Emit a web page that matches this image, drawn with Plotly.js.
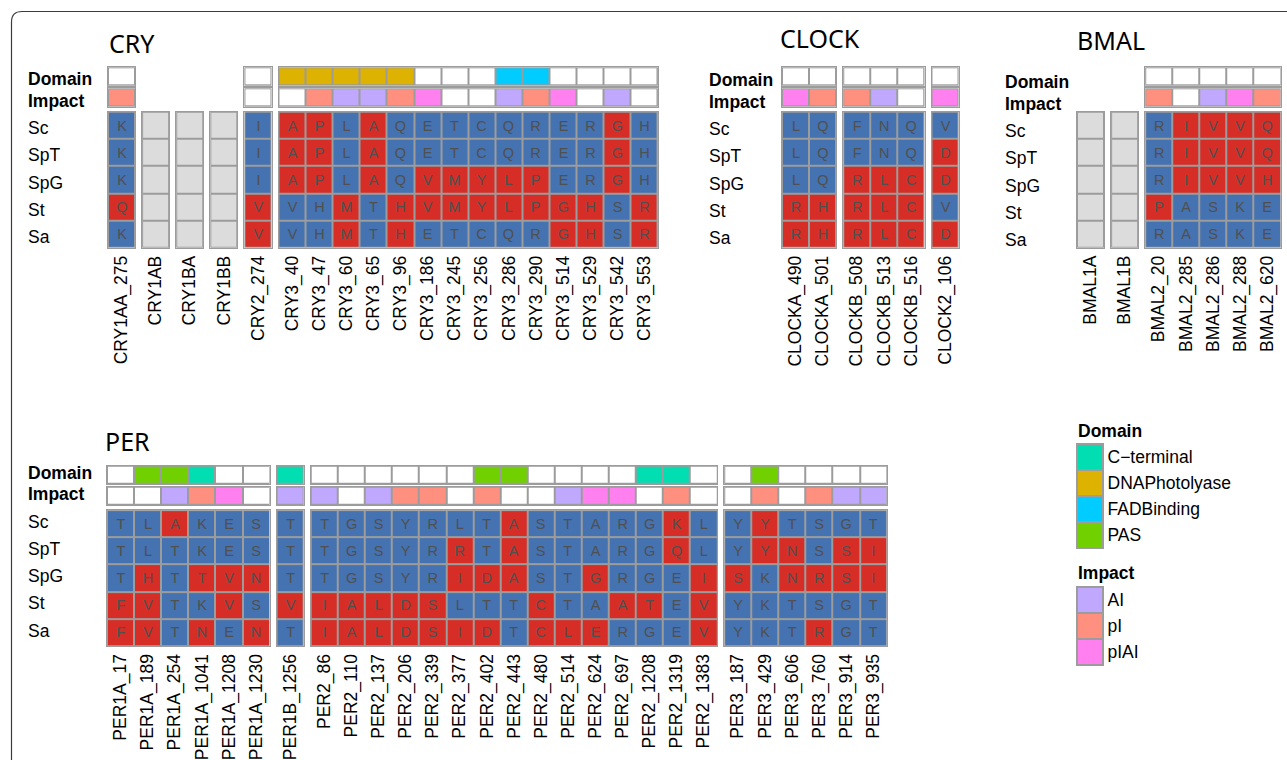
<!DOCTYPE html>
<html><head><meta charset="utf-8">
<script src="https://cdn.plot.ly/plotly-3.0.1.min.js"></script>
<style>html,body{margin:0;padding:0;background:#fff}</style>
</head><body><div id="chart" style="width:1287px;height:760px"></div>
<script>
// ---------------- DATA ----------------
const species = ["Sc","SpT","SpG","St","Sa"];

// CRY
const cryLabels = ["CRY1AA_275","CRY1AB","CRY1BA","CRY1BB","CRY2_274","CRY3_40","CRY3_47","CRY3_60","CRY3_65","CRY3_96","CRY3_186","CRY3_245","CRY3_256","CRY3_286","CRY3_290","CRY3_514","CRY3_529","CRY3_542","CRY3_553"];
const cryGroupSizes = [1,1,1,1,1,14];
const cryDomain = ["",null,null,null,"","DNAPhotolyase","DNAPhotolyase","DNAPhotolyase","DNAPhotolyase","DNAPhotolyase","","","","FADBinding","FADBinding","","","",""];
const cryImpact = ["pI",null,null,null,"","","pI","AI","AI","pI","pIAI","","","AI","pI","pIAI","","AI",""];
const cryResidues = ["K---IAPLAQETCQRERGH","K---IAPLAQETCQRERGH","K---IAPLAQVMYLPERGH","Q---VVHMTHVMYLPGHSR","K---VVHMTHETCQRGHSR"];
const cryStatus   = ["B---BRRBRBBBBBBBBRB","B---BRRBRBBBBBBBBRB","B---BRRBRBRRRRRBBRB","R---RBBRBRRRRRRRRBR","B---RBBRBRBBBBBRRBR"];

// CLOCK
const clockLabels = ["CLOCKA_490","CLOCKA_501","CLOCKB_508","CLOCKB_513","CLOCKB_516","CLOCK2_106"];
const clockGroupSizes = [2,3,1];
const clockDomain = ["","","","","",""];
const clockImpact = ["pIAI","pI","pI","AI","","pIAI"];
const clockResidues = ["LQFNQV","LQFNQD","LQRLCD","RHRLCV","RHRLCD"];
const clockStatus   = ["BBBBBB","BBBBBR","BBRRRR","RRRRRB","RRRRRR"];

// BMAL
const bmalLabels = ["BMAL1A","BMAL1B","BMAL2_20","BMAL2_285","BMAL2_286","BMAL2_288","BMAL2_620"];
const bmalGroupSizes = [1,1,5];
const bmalDomain = [null,null,"","","","",""];
const bmalImpact = [null,null,"pI","","AI","pIAI","pI"];
const bmalResidues = ["--RIVVQ","--RIVVQ","--RIVVH","--PASKE","--RASKE"];
const bmalStatus   = ["--BRRRR","--BRRRR","--BRRRR","--RBBBB","--BBBBB"];

// PER
const perLabels = ["PER1A_17","PER1A_189","PER1A_254","PER1A_1041","PER1A_1208","PER1A_1230","PER1B_1256",
  "PER2_86","PER2_110","PER2_137","PER2_206","PER2_339","PER2_377","PER2_402","PER2_443","PER2_480","PER2_514","PER2_624","PER2_697","PER2_1208","PER2_1319","PER2_1383",
  "PER3_187","PER3_429","PER3_606","PER3_760","PER3_914","PER3_935"];
const perGroupSizes = [6,1,15,6];
const perDomain = ["","PAS","PAS","C−terminal","","", "C−terminal",
  "","","","","","","PAS","PAS","","","","","C−terminal","C−terminal","",
  "","PAS","","","",""];
const perImpact = ["","","AI","pI","pIAI","", "AI",
  "AI","","AI","pI","pI","","pI","","","AI","pIAI","pIAI","","pI","",
  "","pI","","pI","AI","AI"];
const perResidues = [
  "TLAKES"+"T"+"TGSYRLTASTARGKL"+"YYTSGT",
  "TLTKES"+"T"+"TGSYRRTASTARGQL"+"YYNSSI",
  "THTTVN"+"T"+"TGSYRIDASTGRGEI"+"SKNRSI",
  "FVTKVS"+"V"+"IALDSLTTCTAATEV"+"YKTSGT",
  "FVTNEN"+"T"+"IALDSIDTCLERGEV"+"YKTRGT"];
const perStatus = [
  "BBRBBB"+"B"+"BBBBBBBRBBBBBRB"+"BRBBBB",
  "BBBBBB"+"B"+"BBBBBRBRBBBBBRB"+"BRRBRR",
  "BRBRRR"+"B"+"BBBBBRRRBBRBBBR"+"RBRRRR",
  "RRBBRB"+"R"+"RRRRRBBBRBBRRBR"+"BBBBBB",
  "RRBRBR"+"B"+"RRRRRRRBRRRBBBR"+"BBBRBB"];

// Legend categories
const domainNames = ["C−terminal","DNAPhotolyase","FADBinding","PAS"];
const impactNames = ["AI","pI","pIAI"];

// ---------------- STYLE ----------------
const W = 1287, H = 760;
const PITCH = 27.1, GROUP_GAP = 7;
const BLUE = '#4572B0', RED = '#D62E26', ABSENT = '#DCDCDC', BORDER = '#9C9C9C';
const domainColors = ["#00DEB2","#DEB200","#00CCFF","#70D000"];
const impactColors = ["#C0A8FF","#FF9080","#FF80EE"];
const FONT = 'Liberation Sans, Arial, sans-serif';
const fx = px => px / W;
const fy = py => 1 - py / H;

function stepScale(cols){
  const n = cols.length, s = [];
  cols.forEach((c,k)=>{
    const a = k===0 ? 0 : (k-0.5)/(n-1);
    const b = k===n-1 ? 1 : (k+0.5)/(n-1);
    s.push([a,c],[b,c]);
  });
  return s;
}
const mainScale = stepScale([BLUE, RED, ABSENT]);
const domScale = stepScale(['#FFFFFF'].concat(domainColors));
const impScale = stepScale(['#FFFFFF'].concat(impactColors));
const domCode = d => d ? domainNames.indexOf(d)+1 : 0;
const impCode = d => d ? impactNames.indexOf(d)+1 : 0;

const panels = [
  {title:'CRY', labels:cryLabels, sizes:cryGroupSizes, domain:cryDomain, impact:cryImpact, residues:cryResidues, status:cryStatus,
   x0:108, top:67.3, labelX:26, titleX:107, titleY:43, rowShift:-3},
  {title:'CLOCK', labels:clockLabels, sizes:clockGroupSizes, domain:clockDomain, impact:clockImpact, residues:clockResidues, status:clockStatus,
   x0:782, top:67.3, labelX:707, titleX:778, titleY:38, rowShift:-4},
  {title:'BMAL', labels:bmalLabels, sizes:bmalGroupSizes, domain:bmalDomain, impact:bmalImpact, residues:bmalResidues, status:bmalStatus,
   x0:1077, top:67.3, labelX:1003, titleX:1075, titleY:40, rowShift:-6},
  {title:'PER', labels:perLabels, sizes:perGroupSizes, domain:perDomain, impact:perImpact, residues:perResidues, status:perStatus,
   x0:107, top:465.7, labelX:26, titleX:103, titleY:441, rowShift:2},
];

const ref = (p,id) => id===1 ? p : p+id;
const axName = (p,id) => id===1 ? p+'axis' : p+'axis'+id;

const traces = [], annotations = [];
const layout = {
  width:W, height:H, margin:{l:0,r:0,t:0,b:0},
  paper_bgcolor:'#FFFFFF', plot_bgcolor:BORDER,
  showlegend:false, hovermode:false,
  font:{family:FONT, color:'#000'},
};
let xi = 0, yi = 0;

function baseAxis(dom, anchor){
  return {domain:dom, anchor:anchor, ticks:'', showgrid:false, zeroline:false,
    showline:true, linecolor:BORDER, linewidth:1, mirror:'all', fixedrange:true, automargin:false};
}

panels.forEach(p=>{
  const yDom = ++yi, yImp = ++yi, yMain = ++yi;
  const T = p.top;
  let col = 0, xpos = p.x0, firstX = null, firstAnnX = null;
  p.sizes.forEach(size=>{
    const id = ++xi;
    if(firstX===null) firstX = id;
    const cols = p.labels.slice(col, col+size);
    layout[axName('x',id)] = Object.assign(baseAxis([fx(xpos), fx(xpos+size*PITCH)], ref('y',yMain)), {
      type:'category', categoryorder:'array', categoryarray:cols, range:[-0.5, size-0.5],
      tickangle:-90, tickfont:{family:FONT, size:17.5, color:'#000'}});
    const z = p.status.map(s => Array.from(s.slice(col,col+size)).map(ch => ch==='B'?0:(ch==='R'?1:2)));
    const text = p.residues.map(s => Array.from(s.slice(col,col+size)).map(ch => ch==='-'?'':ch));
    traces.push({type:'heatmap', x:cols, y:species, z:z, text:text, texttemplate:'%{text}',
      textfont:{family:FONT, size:14.5, color:'#505050'},
      colorscale:mainScale, zmin:0, zmax:2, showscale:false, xgap:2, ygap:2, hoverinfo:'skip',
      xaxis:ref('x',id), yaxis:ref('y',yMain)});
    const dom = p.domain.slice(col, col+size);
    const imp = p.impact.slice(col, col+size);
    if(dom[0]!==null){
      if(firstAnnX===null) firstAnnX = id;
      traces.push({type:'heatmap', x:cols, y0:0, dy:1, z:[dom.map(domCode)], colorscale:domScale, zmin:0, zmax:4,
        showscale:false, xgap:2, ygap:2, hoverinfo:'skip', xaxis:ref('x',id), yaxis:ref('y',yDom)});
      traces.push({type:'heatmap', x:cols, y0:0, dy:1, z:[imp.map(impCode)], colorscale:impScale, zmin:0, zmax:3,
        showscale:false, xgap:2, ygap:2, hoverinfo:'skip', xaxis:ref('x',id), yaxis:ref('y',yImp)});
    }
    xpos += size*PITCH + GROUP_GAP; col += size;
  });
  const annY = {type:'linear', range:[0.5,-0.5], showticklabels:false};
  layout[axName('y',yDom)] = Object.assign(baseAxis([fy(T+18.4), fy(T)], ref('x',firstAnnX)), annY);
  layout[axName('y',yImp)] = Object.assign(baseAxis([fy(T+39.4), fy(T+21)], ref('x',firstAnnX)), annY);
  layout[axName('y',yMain)] = Object.assign(baseAxis([fy(T+180.4), fy(T+44.4)], ref('x',firstX)),
    {type:'category', categoryorder:'array', categoryarray:species, range:[4.5,-0.5], showticklabels:false});

  annotations.push({xref:'paper', yref:'paper', x:fx(p.titleX), y:fy(p.titleY), xanchor:'left', yanchor:'middle',
    text:p.title, showarrow:false, font:{family:'Noto Sans, sans-serif', size:25, color:'#000'}});
  annotations.push({xref:'paper', x:fx(p.labelX), xanchor:'left', yref:ref('y',yDom), y:0, yanchor:'middle', yshift:p.rowShift,
    text:'<b>Domain</b>', showarrow:false, font:{family:FONT, size:17.5, color:'#000'}});
  annotations.push({xref:'paper', x:fx(p.labelX), xanchor:'left', yref:ref('y',yImp), y:0, yanchor:'middle', yshift:p.rowShift,
    text:'<b>Impact</b>', showarrow:false, font:{family:FONT, size:17.5, color:'#000'}});
  species.forEach((s,k)=>{
    annotations.push({xref:'paper', x:fx(p.labelX), xanchor:'left', yref:ref('y',yMain), y:k, yanchor:'middle', yshift:p.rowShift,
      text:s, showarrow:false, font:{family:FONT, size:17.5, color:'#000'}});
  });
});

// Legends as one-column heatmaps
function legendBlock(names, scale, zmax, top, titleY, title){
  const xid = ++xi, yid = ++yi;
  const bottom = top + names.length*26;
  layout[axName('x',xid)] = Object.assign(baseAxis([fx(1077), fx(1103)], ref('y',yid)),
    {type:'linear', range:[-0.5,0.5], showticklabels:false});
  layout[axName('y',yid)] = Object.assign(baseAxis([fy(bottom), fy(top)], ref('x',xid)),
    {type:'category', categoryorder:'array', categoryarray:names, range:[names.length-0.5,-0.5],
     side:'right', showticklabels:true, tickfont:{family:FONT, size:17.5, color:'#000'}});
  traces.push({type:'heatmap', x0:0, dx:1, y:names, z:names.map((n,k)=>[k+1]), colorscale:scale, zmin:0, zmax:zmax,
    showscale:false, xgap:2, ygap:2, hoverinfo:'skip', xaxis:ref('x',xid), yaxis:ref('y',yid)});
  annotations.push({xref:'paper', yref:'paper', x:fx(1076), y:fy(titleY), xanchor:'left', yanchor:'middle',
    text:'<b>'+title+'</b>', showarrow:false, font:{family:FONT, size:17.5, color:'#000'}});
}
legendBlock(domainNames, domScale, 4, 444, 431, 'Domain');
legendBlock(impactNames, impScale, 3, 587, 573, 'Impact');

layout.annotations = annotations;
layout.shapes = [{type:'path', xref:'paper', yref:'paper', layer:'above',
  path:`M ${fx(11.5)},${fy(770)} L ${fx(11.5)},${fy(22)} Q ${fx(11.5)},${fy(11.5)} ${fx(22)},${fy(11.5)} L ${fx(1295)},${fy(11.5)}`,
  line:{color:'#3C3C3C', width:1.2}}];

Plotly.newPlot('chart', traces, layout, {staticPlot:true, displayModeBar:false});
</script>
</body></html>
